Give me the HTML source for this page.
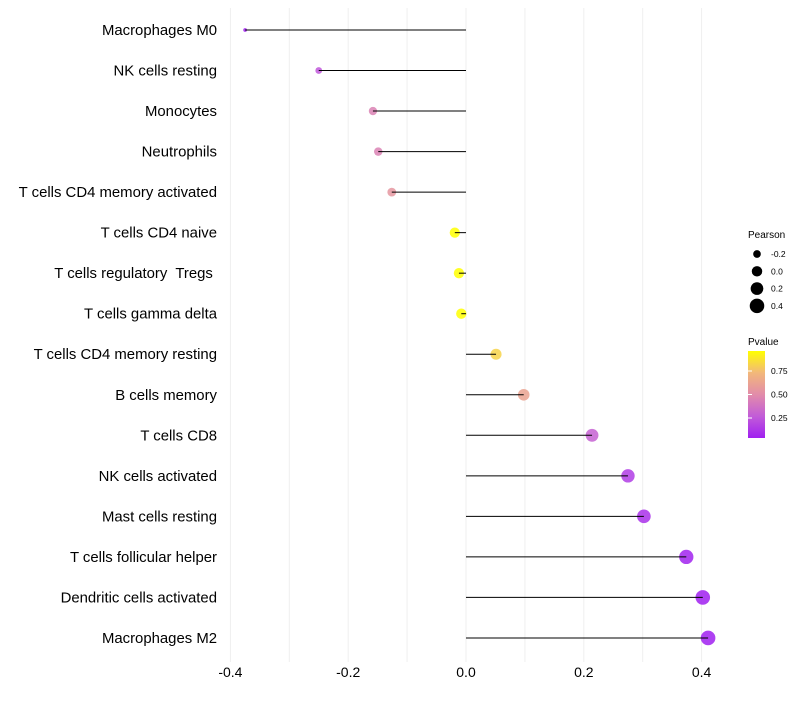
<!DOCTYPE html>
<html><head><meta charset="utf-8"><style>
body{margin:0;background:#fff;font-family:"Liberation Sans",sans-serif}
</style></head><body>
<svg id="chart" width="800" height="700" xmlns="http://www.w3.org/2000/svg">
<defs><linearGradient id="pg" x1="0" y1="1" x2="0" y2="0">
<stop offset="0" stop-color="#a020f0"/><stop offset="0.25" stop-color="#c25cd8"/><stop offset="0.5" stop-color="#e28caa"/><stop offset="0.75" stop-color="#f2b87a"/><stop offset="1" stop-color="#ffff00"/>
</linearGradient></defs>
<g id="grid"></g><g id="marks"></g><g id="labels"></g>
<g font-size="9" fill="#000">
<text x="748" y="238" font-size="10">Pearson</text>
<g id="sizeleg"></g>
<text x="748" y="345" font-size="10">Pvalue</text>
<rect x="748" y="351" width="17" height="87" fill="url(#pg)"/>
<g id="colleg"></g>
</g>
</svg>
<script>
const categories=["Macrophages M0","NK cells resting","Monocytes","Neutrophils","T cells CD4 memory activated","T cells CD4 naive","T cells regulatory  Tregs ","T cells gamma delta","T cells CD4 memory resting","B cells memory","T cells CD8","NK cells activated","Mast cells resting","T cells follicular helper","Dendritic cells activated","Macrophages M2"];
const pearson=[-0.375,-0.25,-0.158,-0.149,-0.126,-0.019,-0.012,-0.008,0.051,0.098,0.214,0.275,0.302,0.374,0.402,0.411];
const pvalue=[0.03,0.25,0.45,0.45,0.55,0.96,0.97,0.97,0.82,0.62,0.3,0.15,0.1,0.05,0.03,0.03];
const xTicks=[-0.4,-0.2,0.0,0.2,0.4];
const sizeLegend=[-0.2,0.0,0.2,0.4];
const colorTicks=[0.25,0.5,0.75];
const NS="http://www.w3.org/2000/svg";
const x=v=>466+v*589;
const y=i=>30+i*40.53;
const r=p=>Math.sqrt(3.5+(p+0.375)/0.786*50);
const pY=p=>418-(p-0.25)*94;
const stops=[[160,32,240],[194,92,216],[226,140,170],[242,184,122],[255,255,0]];
function col(p){const t=Math.max(0,Math.min(1,(p-0.04)/0.92))*4;
const k=Math.min(3,Math.floor(t)),u=t-k,a=stops[k],b=stops[k+1];
return `rgb(${a.map((v,j)=>Math.round(v+(b[j]-v)*u)).join(",")})`;}
function mk(tag,at,parent){const e=document.createElementNS(NS,tag);for(const k in at)e.setAttribute(k,at[k]);parent.appendChild(e);return e;}
const grid=document.getElementById('grid'),marks=document.getElementById('marks'),labels=document.getElementById('labels');
for(let v=-0.4;v<=0.4001;v+=0.1){const g=mk('line',{x1:x(v),x2:x(v),y1:8,y2:662,stroke:'#efefef','stroke-width':1},grid);

}
xTicks.forEach(v=>{const t=mk('text',{x:x(v),y:677,'text-anchor':'middle','font-size':14,fill:'#000'},labels);t.textContent=v.toFixed(1);

});
categories.forEach((c,i)=>{
const t=mk('text',{x:217,y:y(i)+5,'text-anchor':'end','font-size':14.9,fill:'#000'},labels);t.textContent=c;
t.style.whiteSpace='pre';


const d=mk('circle',{cx:x(pearson[i]),cy:y(i),r:r(pearson[i]),fill:col(pvalue[i]),'fill-opacity':0.85},marks);


const l=mk('line',{x1:x(0),x2:x(pearson[i]),y1:y(i),y2:y(i),stroke:'#000','stroke-width':1},marks);


});
const sl=document.getElementById('sizeleg');
sizeLegend.forEach((v,k)=>{const cy=254+k*17.3;
const d=mk('circle',{cx:757,cy:cy,r:r(v),fill:'#000'},sl);


const t=mk('text',{x:771,y:cy+3,'font-size':8.5},sl);t.textContent=v.toFixed(1);

});
const cl=document.getElementById('colleg');
colorTicks.forEach(v=>{const yy=pY(v);
const tk=mk('line',{x1:748,x2:752,y1:yy,y2:yy,stroke:'#fff'},cl);


const t=mk('text',{x:771,y:yy+3,'font-size':8.5},cl);t.textContent=v.toFixed(2);

});
</script>
</body></html>
